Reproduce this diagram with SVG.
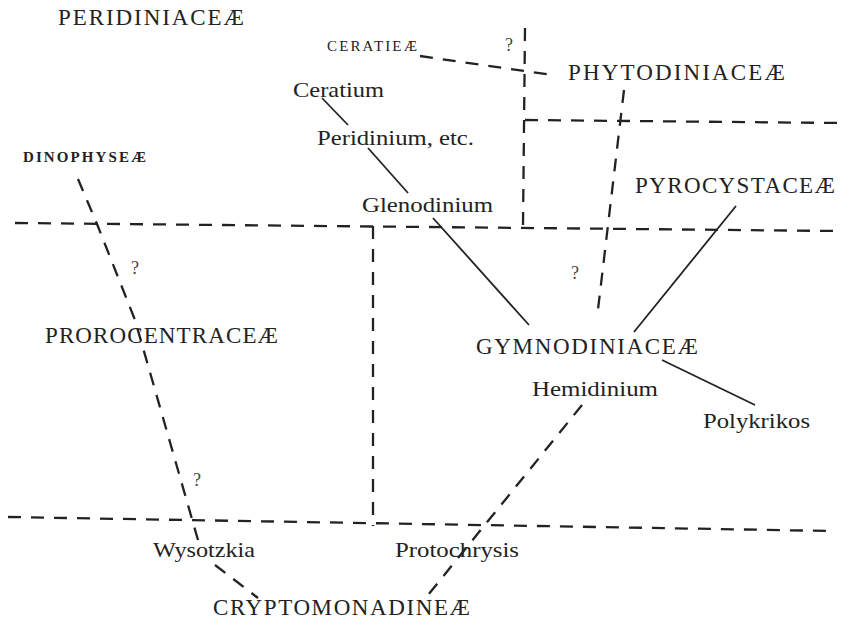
<svg xmlns="http://www.w3.org/2000/svg" width="844" height="625" viewBox="0 0 844 625">
<style>
.t{font-family:"Liberation Serif","DejaVu Serif",serif;fill:#222;}
.big{font-size:21px;}
.cap{font-size:23px;}
.sm{font-size:15px;}
.q{font-size:18px;fill:#444;}
.d{fill:none;stroke:#222;stroke-width:2.3;stroke-dasharray:13 10;}
.s{fill:none;stroke:#222;stroke-width:1.8;}
</style>
<rect width="844" height="625" fill="#fff"/>
<g id="connectors">
<path class="d" d="M15,223 L838,231"/>
<path class="d" d="M8,517 L832,531"/>
<path class="d" d="M373,226 L373,526"/>
<path class="d" d="M525,28 L523,226 L520,226"/>
<path class="d" d="M525,120 L840,123"/>
<path class="d" d="M420,56 L552,75"/>
<path class="d" d="M624,90 L597,318"/>
<path class="d" d="M78,179 L97,224 L135,320 L198,540"/>
<path class="d" d="M215,565 L258,598"/>
<path class="d" d="M582,405 L424,600"/>
<path class="s" d="M322,98 L348,125"/>
<path class="s" d="M368,148 L408,193"/>
<path class="s" d="M433,218 L529,325"/>
<path class="s" d="M736,206 L634,332"/>
<path class="s" d="M662,360 L755,405"/>
</g>
<g id="peridiniaceae"><text class="t cap" x="58" y="25" textLength="186" lengthAdjust="spacing">PERIDINIACEÆ</text></g>
<g id="ceratieae"><text class="t sm" x="327" y="51" textLength="90" lengthAdjust="spacing">CERATIEÆ</text></g>
<g id="phytodiniaceae"><text class="t cap" x="568" y="80" textLength="217" lengthAdjust="spacing">PHYTODINIACEÆ</text></g>
<g id="ceratium"><text class="t big" x="293" y="97" textLength="91" lengthAdjust="spacingAndGlyphs">Ceratium</text></g>
<g id="peridinium"><text class="t big" x="317" y="145" textLength="157" lengthAdjust="spacingAndGlyphs">Peridinium, etc.</text></g>
<g id="dinophyseae"><text class="t sm" x="23" y="162" font-weight="bold" textLength="123" lengthAdjust="spacing">DINOPHYSEÆ</text></g>
<g id="glenodinium"><text class="t big" x="362" y="212" textLength="131" lengthAdjust="spacingAndGlyphs">Glenodinium</text></g>
<g id="pyrocystaceae"><text class="t cap" x="635" y="193" textLength="200" lengthAdjust="spacing">PYROCYSTACEÆ</text></g>
<g id="prorocentraceae"><text class="t cap" x="45" y="343" textLength="233" lengthAdjust="spacing">PROROCENTRACEÆ</text></g>
<g id="gymnodiniaceae"><text class="t cap" x="476" y="354" textLength="222" lengthAdjust="spacing">GYMNODINIACEÆ</text></g>
<g id="hemidinium"><text class="t big" x="532" y="396" textLength="126" lengthAdjust="spacingAndGlyphs">Hemidinium</text></g>
<g id="polykrikos"><text class="t big" x="703" y="428" textLength="107" lengthAdjust="spacingAndGlyphs">Polykrikos</text></g>
<g id="wysotzkia"><text class="t big" x="153" y="557" textLength="102" lengthAdjust="spacingAndGlyphs">Wysotzkia</text></g>
<g id="protochrysis"><text class="t big" x="395" y="557" textLength="124" lengthAdjust="spacingAndGlyphs">Protochrysis</text></g>
<g id="cryptomonadineae"><text class="t cap" x="213" y="615" textLength="257" lengthAdjust="spacing">CRYPTOMONADINEÆ</text></g>
<g id="q1"><text class="t q" x="505" y="51">?</text></g>
<g id="q2"><text class="t q" x="131" y="274">?</text></g>
<g id="q3"><text class="t q" x="571" y="279">?</text></g>
<g id="q4"><text class="t q" x="193" y="486">?</text></g>
</svg>
